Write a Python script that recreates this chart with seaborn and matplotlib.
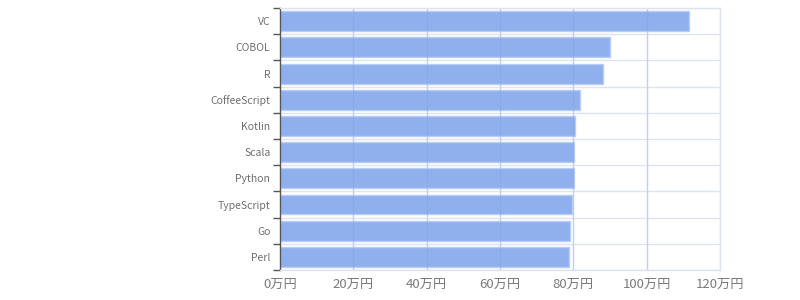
import matplotlib
matplotlib.use("Agg")
import matplotlib.pyplot as plt
import seaborn as sns
import pandas as pd
from matplotlib.ticker import FixedLocator

languages = ["VC", "COBOL", "R", "CoffeeScript", "Kotlin", "Scala", "Python", "TypeScript", "Go", "Perl"]
salary_man = [111.5, 90.0, 88.2, 81.7, 80.5, 80.2, 80.2, 79.6, 79.2, 78.8]
x_ticks = [0, 20, 40, 60, 80, 100, 120]
x_tick_labels = ["0万円", "20万円", "40万円", "60万円", "80万円", "100万円", "120万円"]

df = pd.DataFrame({"lang": languages, "salary": salary_man})

sns.set_theme(style="white")
plt.rcParams["font.family"] = ["Noto Sans CJK JP", "DejaVu Sans"]

fig = plt.figure(figsize=(8, 3), dpi=100)
ax = fig.add_axes([0.35, 0.1, 0.55, 0.873])

sns.barplot(data=df, x="salary", y="lang", orient="h", color="#8aaced",
            width=0.76, ax=ax, saturation=1, edgecolor="#b9ccf5", linewidth=1,
            alpha=0.95, zorder=1)

n = len(languages)
ax.set_xlim(0, 120)
ax.set_ylim(n - 0.5, -0.5)
ax.set_xticks(x_ticks)
ax.set_xticklabels(x_tick_labels)
ax.set_xlabel("")
ax.set_ylabel("")

for xv in x_ticks[1:]:
    ax.axvline(xv, color="#dde3f0", lw=1, zorder=0.5)
for xv in x_ticks[1:-1]:
    ax.axvline(xv, color="#7f9de0", lw=1, alpha=0.25, zorder=2)
for i in range(n + 1):
    ax.axhline(i - 0.5, color="#dde3f0", lw=1, zorder=0.5)

ax.yaxis.set_minor_locator(FixedLocator([i - 0.5 for i in range(n + 1)]))
ax.tick_params(axis="y", which="major", length=0, labelsize=7.5, labelcolor="#6e6e6e", pad=7)
ax.tick_params(axis="y", which="minor", length=5, width=1, color="#555555", left=True)
ax.tick_params(axis="x", length=0, labelsize=9.5, labelcolor="#7a7a7a", pad=6)

for s in ["top", "right", "bottom"]:
    ax.spines[s].set_color("#dde3f0")
    ax.spines[s].set_linewidth(1)
ax.spines["left"].set_color("#555555")
ax.spines["left"].set_linewidth(1)

fig.savefig("out.png", dpi=100)
